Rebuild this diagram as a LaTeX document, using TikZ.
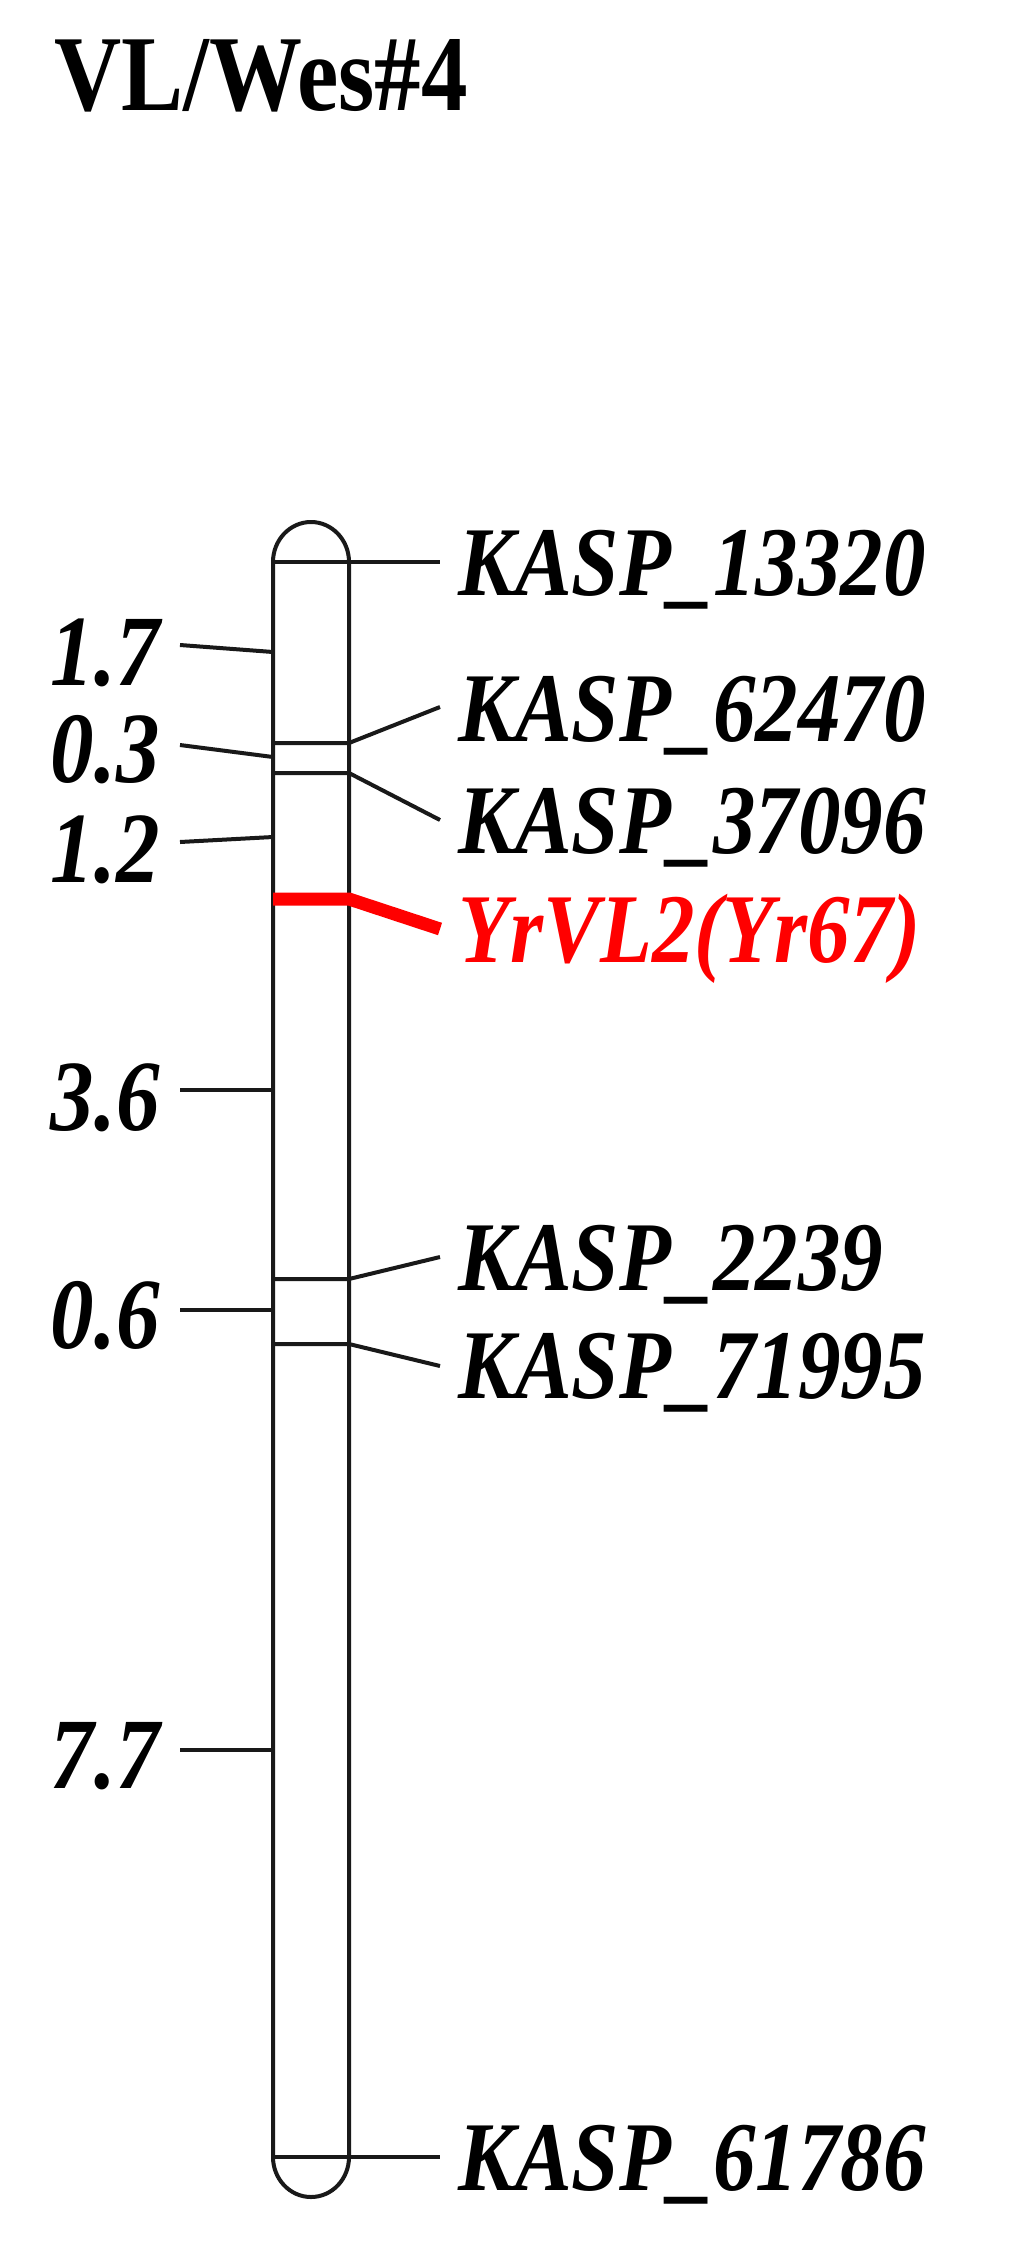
\documentclass[tikz,border=0pt]{standalone}
\usepackage{fontspec}
\setmainfont{Liberation Serif}
\newcommand{\vstr}[1]{\scalebox{1}[1.16]{#1}}
\begin{document}
\begin{tikzpicture}[x=0.5pt,y=-0.5pt,
  lbl/.style={anchor=base west, inner sep=0pt, font=\fontsize{42.5}{50}\selectfont\bfseries\itshape},
  num/.style={anchor=base east, inner sep=0pt, font=\fontsize{43.5}{50}\selectfont\bfseries\itshape},
  ttl/.style={anchor=base west, inner sep=0pt, font=\fontsize{46.5}{55}\selectfont\bfseries},
  chr/.style={line width=2pt, black!90, line join=round},
  tk/.style={line width=2pt, black!90},
  qtl/.style={line width=6.5pt, red}]
\useasboundingbox (0,0) rectangle (1010,2243);
% title
\node[ttl] (title) at (54,110) {\vstr{VL/Wes\#4}};
% chromosome
\draw[chr] (273,562) -- (273,2157) arc[start angle=180, end angle=360, x radius=19pt, y radius=20pt]
  -- (349,562) arc[start angle=0, end angle=180, x radius=19pt, y radius=20pt] -- cycle;
% marker coordinates
\coordinate (aL) at (273,562);  \coordinate (aR) at (349,562);  \coordinate (aE) at (440,562);
\coordinate (bL) at (273,743);  \coordinate (bR) at (349,743);  \coordinate (bE) at (440,707);
\coordinate (cL) at (273,773);  \coordinate (cR) at (349,773);  \coordinate (cE) at (440,820);
\coordinate (qL) at (273,899);  \coordinate (qR) at (349,899);  \coordinate (qE) at (440,929);
\coordinate (dL) at (273,1279); \coordinate (dR) at (349,1279); \coordinate (dE) at (440,1257);
\coordinate (eL) at (273,1344); \coordinate (eR) at (349,1344); \coordinate (eE) at (440,1366);
\coordinate (fL) at (273,2157); \coordinate (fR) at (349,2157); \coordinate (fE) at (440,2157);
% marker lines
\draw[tk] (aL) -- (aR) -- (aE);
\draw[tk] (bL) -- (bR) -- (bE);
\draw[tk] (cL) -- (cR) -- (cE);
\draw[qtl] (qL) -- (qR) -- (qE);
\draw[tk] (dL) -- (dR) -- (dE);
\draw[tk] (eL) -- (eR) -- (eE);
\draw[tk] (fL) -- (fR) -- (fE);
% labels
\node[lbl] (la) at (458,595) {\vstr{KASP\_13320}};
\node[lbl] (lb) at (458,741) {\vstr{KASP\_62470}};
\node[lbl] (lc) at (458,853) {\vstr{KASP\_37096}};
\node[lbl, text=red] (lq) at (458,962) {\vstr{YrVL2(Yr67)}};
\node[lbl] (ld) at (458,1290) {\vstr{KASP\_2239}};
\node[lbl] (le) at (458,1398) {\vstr{KASP\_71995}};
\node[lbl] (lf) at (458,2190) {\vstr{KASP\_61786}};
% interval ticks
\coordinate (t1a) at (180,645);  \coordinate (t1b) at (273,652);
\coordinate (t2a) at (180,745);  \coordinate (t2b) at (273,757);
\coordinate (t3a) at (180,842);  \coordinate (t3b) at (273,837);
\coordinate (t4a) at (180,1090); \coordinate (t4b) at (273,1090);
\coordinate (t5a) at (180,1310); \coordinate (t5b) at (273,1310);
\coordinate (t6a) at (180,1750); \coordinate (t6b) at (273,1750);
\draw[tk] (t1a) -- (t1b);
\draw[tk] (t2a) -- (t2b);
\draw[tk] (t3a) -- (t3b);
\draw[tk] (t4a) -- (t4b);
\draw[tk] (t5a) -- (t5b);
\draw[tk] (t6a) -- (t6b);
\node[num] (n1) at (160,685) {\vstr{1.7}};
\node[num] (n2) at (160,782) {\vstr{0.3}};
\node[num] (n3) at (160,882) {\vstr{1.2}};
\node[num] (n4) at (160,1130) {\vstr{3.6}};
\node[num] (n5) at (160,1348) {\vstr{0.6}};
\node[num] (n6) at (160,1788) {\vstr{7.7}};
\end{tikzpicture}
\end{document}
